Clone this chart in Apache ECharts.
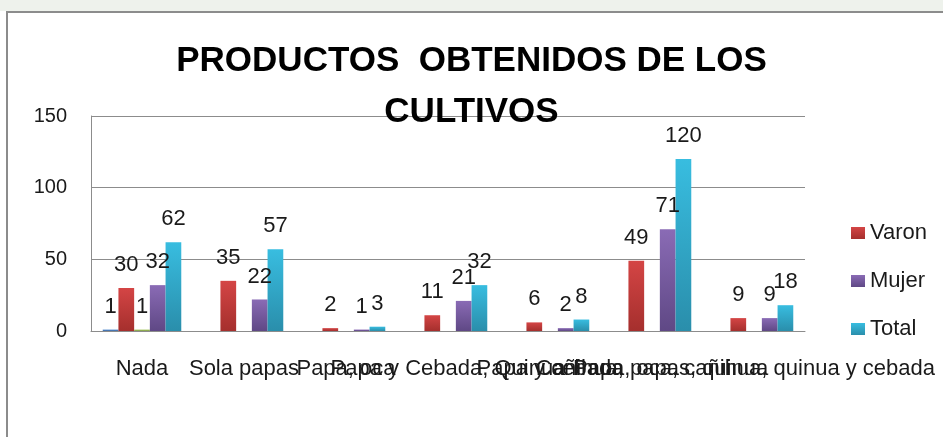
<!DOCTYPE html>
<html style="height: 100%">
<head>
<meta charset="utf-8">
</head>
<body style="height: 100%; margin: 0; background: #fff">
<div id="container" style="width: 943px; height: 437px"></div>
<script src="https://cdn.jsdelivr.net/npm/echarts@6/dist/echarts.min.js"></script>
<script>
var categories = ['Nada', 'Sola papas', 'Papa, oca', 'Papa y Cebada, Quinua', 'Papa y cebada', 'Cañihua, papas, quinua', 'Papa, oca, cañihua, quinua y cebada'];
// Excel had two extra series (legend entries removed) that only carry a 1 in "Nada"
var extra1 = [1, null, null, null, null, null, null];
var varon = [30, 35, 2, 11, 6, 49, 9];
var extra2 = [1, null, null, null, null, null, null];
var mujer = [32, 22, 1, 21, 2, 71, 9];
var total = [62, 57, 3, 32, 8, 120, 18];
var yTicks = { min: 0, max: 150, interval: 50 };

var font = '"Liberation Sans", Arial, sans-serif';

function grad(top, bottom) {
    return new echarts.graphic.LinearGradient(0, 0, 0, 1, [
        { offset: 0, color: top },
        { offset: 1, color: bottom }
    ]);
}

var lbl = {
    show: true,
    position: 'top',
    distance: 12,
    color: '#1a1a1a',
    fontSize: 22,
    fontFamily: font
};

function bar(name, data, top, bottom) {
    return {
        name: name,
        type: 'bar',
        data: data,
        barGap: '0%',
        barCategoryGap: '23%',
        itemStyle: { color: grad(top, bottom) },
        label: lbl
    };
}

var myChart = echarts.init(document.getElementById('container'));
var option = {
    animation: false,
    graphic: [
        { type: 'rect', shape: { x: 0, y: 0, width: 943, height: 11 }, style: { fill: '#eef2ec' }, silent: true },
        { type: 'rect', shape: { x: 7, y: 12, width: 960, height: 460 }, style: { fill: 'none', stroke: '#8c8c8c', lineWidth: 2 }, silent: true }
    ],
    title: {
        text: 'PRODUCTOS  OBTENIDOS DE LOS\nCULTIVOS',
        left: 'center',
        top: 31,
        textStyle: {
            fontSize: 35,
            fontWeight: 'bold',
            fontFamily: font,
            color: '#000',
            lineHeight: 51
        }
    },
    legend: {
        data: ['Varon', 'Mujer', 'Total'],
        orient: 'vertical',
        left: 846,
        top: 217,
        icon: 'rect',
        itemWidth: 14,
        itemHeight: 12,
        itemGap: 26,
        textStyle: { fontSize: 22, fontFamily: font, color: '#1a1a1a', padding: [0, 0, 0, 0] }
    },
    grid: { left: 91, right: 138, top: 116, bottom: 106, containLabel: false },
    xAxis: {
        type: 'category',
        data: categories,
        axisLine: { lineStyle: { color: '#8c8c8c' } },
        axisTick: { show: false },
        axisLabel: { interval: 0, fontSize: 22, fontFamily: font, color: '#1a1a1a', margin: 27 }
    },
    yAxis: {
        type: 'value',
        min: yTicks.min,
        max: yTicks.max,
        interval: yTicks.interval,
        axisLine: { show: true, lineStyle: { color: '#8c8c8c' } },
        axisTick: { show: false },
        axisLabel: { fontSize: 20, fontFamily: font, color: '#1a1a1a', margin: 24 },
        splitLine: { lineStyle: { color: '#8c8c8c' } }
    },
    series: [
        bar('Serie 1', extra1, '#5b8fd0', '#3d6aa3'),
        bar('Varon', varon, '#d44545', '#a52f2d'),
        bar('Serie 3', extra2, '#a8c866', '#819c45'),
        bar('Mujer', mujer, '#8a6bb5', '#5f4885'),
        bar('Total', total, '#38bde0', '#2a8eab')
    ]
};
myChart.setOption(option);
</script>
</body>
</html>
